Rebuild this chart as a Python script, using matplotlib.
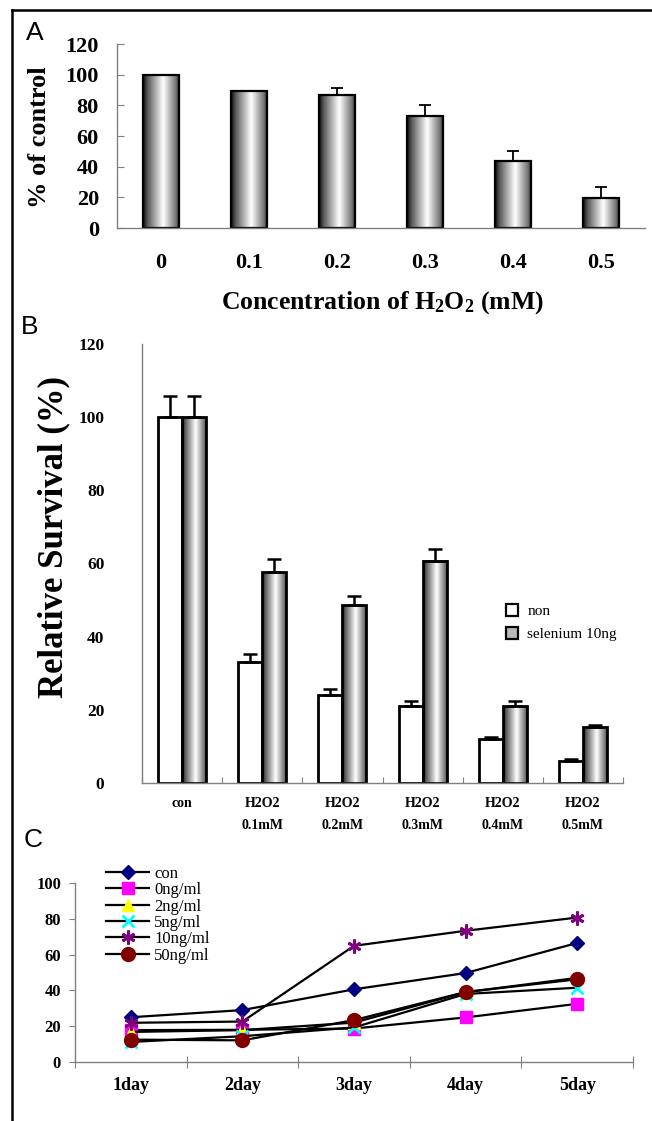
import numpy as np
import matplotlib
matplotlib.use('Agg')
import matplotlib.pyplot as plt
from matplotlib.lines import Line2D
from matplotlib.patches import Patch

plt.rcParams['font.family'] = ['Liberation Serif', 'DejaVu Serif']
plt.rcParams['mathtext.fontset'] = 'custom'
plt.rcParams['mathtext.rm'] = 'Liberation Serif:bold'
plt.rcParams['mathtext.default'] = 'rm'

# --- panel A: H2O2 dose response
conc_labels = ['0', '0.1', '0.2', '0.3', '0.4', '0.5']
pct_control = [100, 89.5, 87, 73, 43.7, 19.4]
pct_err = [0, 0, 4.6, 7.3, 6.6, 7.2]

# --- panel B: survival with / without selenium
groups = ['con', 'H2O2\n0.1mM', 'H2O2\n0.2mM', 'H2O2\n0.3mM', 'H2O2\n0.4mM', 'H2O2\n0.5mM']
surv_non = [100, 33, 24, 21, 12, 6]
surv_non_err = [5.7, 2.3, 1.7, 1.4, 0.7, 0.5]
surv_sel = [100, 57.6, 48.6, 60.7, 21, 15.2]
surv_sel_err = [5.7, 3.5, 2.5, 3.4, 1.4, 0.7]

# --- panel C: time course
days = ['1day', '2day', '3day', '4day', '5day']
series_names = ['con', '0ng/ml', '2ng/ml', '5ng/ml', '10ng/ml', '50ng/ml']
s_con = [25.0, 29.0, 40.6, 49.7, 66.5]
s_0ng = [17.8, 18.0, 18.7, 24.9, 32.5]
s_2ng = [16.8, 17.8, 22.0, 39.0, 47.0]
s_5ng = [11.2, 14.4, 19.3, 38.0, 41.5]
s_10ng = [21.9, 22.6, 64.9, 73.3, 80.7]
s_50ng = [12.5, 12.1, 23.4, 39.1, 46.2]

W, H = 652, 1121
fig = plt.figure(figsize=(W / 100, H / 100), dpi=100)


def box(l, t, r, b):
    return [l / W, 1 - b / H, (r - l) / W, (b - t) / H]


# cylinder-like shading for bars
shade = np.interp(np.linspace(0, 1, 64), [0, 0.12, 0.55, 0.9, 1], [0.05, 0.35, 1.0, 0.45, 0.15])
shade = shade[np.newaxis, :]


def shade_bars(ax, bars):
    for b in bars:
        x0, w, h = b.get_x(), b.get_width(), b.get_height()
        ax.imshow(shade, extent=[x0, x0 + w, 0, h], aspect='auto', cmap='gray',
                  vmin=0, vmax=1, zorder=1, interpolation='bilinear')


def gray_axes(ax):
    for s in ['top', 'right']:
        ax.spines[s].set_visible(False)
    for s in ['left', 'bottom']:
        ax.spines[s].set_color('#808080')
        ax.spines[s].set_linewidth(1)


# ---------------- A ----------------
axA = fig.add_axes(box(117, 44, 645, 228))
xa = np.arange(len(conc_labels)) + 0.5
barsA = axA.bar(xa, pct_control, width=0.41, facecolor='none', edgecolor='black',
                linewidth=1.6, zorder=2)
shade_bars(axA, barsA)
axA.errorbar(xa, pct_control, yerr=[[0] * len(pct_err), pct_err], fmt='none',
             ecolor='black', elinewidth=1.3, capsize=4, capthick=1.3, zorder=3)
axA.set_xlim(0, 6)
axA.set_ylim(0, 120)
axA.set_yticks(range(0, 121, 20))
axA.set_xticks(xa)
axA.set_xticklabels(conc_labels, fontsize=16, fontweight='bold')
axA.tick_params(axis='x', length=0, pad=18)
axA.tick_params(axis='y', direction='in', length=5, color='#808080', pad=13,
                labelsize=16)
for t in axA.get_yticklabels():
    t.set_fontweight('bold')
gray_axes(axA)
fig.text(40 / W, 1 - 137 / H, '% of control', rotation=90, ha='center', va='center',
         fontsize=19, fontweight='bold')
fig.text(382 / W, 1 - 303 / H, r'Concentration of H$_2$O$_2$ (mM)', ha='center',
         va='center', fontsize=18.5, fontweight='bold')

# ---------------- B ----------------
axB = fig.add_axes(box(142, 344, 623, 783))
xb = np.arange(len(groups)) + 0.5
bw = 0.3
barsN = axB.bar(xb - bw / 2, surv_non, width=bw, facecolor='white', edgecolor='black',
                linewidth=2, zorder=2, label='non')
barsS = axB.bar(xb + bw / 2, surv_sel, width=bw, facecolor='none', edgecolor='black',
                linewidth=2, zorder=2)
shade_bars(axB, barsS)
axB.errorbar(xb - bw / 2, surv_non, yerr=[[0] * len(groups), surv_non_err], fmt='none',
             ecolor='black', elinewidth=1.8, capsize=5, capthick=1.8, zorder=3)
axB.errorbar(xb + bw / 2, surv_sel, yerr=[[0] * len(groups), surv_sel_err], fmt='none',
             ecolor='black', elinewidth=1.8, capsize=5, capthick=1.8, zorder=3)
axB.set_xlim(0, 6)
axB.set_ylim(0, 120)
axB.set_yticks(range(0, 121, 20))
axB.tick_params(axis='y', length=0, pad=27, labelsize=12.5)
for t in axB.get_yticklabels():
    t.set_fontweight('bold')
axB.set_xticks(np.arange(0, 7))
axB.set_xticklabels([])
axB.tick_params(axis='x', which='major', direction='in', length=4, color='#808080')
axB.set_xticks(xb, minor=True)
axB.set_xticklabels(groups, minor=True, fontsize=10, fontweight='bold', linespacing=1.9)
axB.tick_params(axis='x', which='minor', length=0, pad=10)
gray_axes(axB)
fig.text(54 / W, 1 - 537 / H, 'Relative Survival (%)', rotation=90, ha='center',
         va='center', fontsize=25, fontweight='bold')
handles_b = [Patch(facecolor='white', edgecolor='black', linewidth=1.6, label='non'),
             Patch(facecolor='#b8b8b8', edgecolor='black', linewidth=1.6,
                   label='selenium 10ng')]
axB.legend(handles=handles_b, loc='upper left', bbox_to_anchor=(506 / W, 1 - 604 / H),
           bbox_transform=fig.transFigure, frameon=False, fontsize=11,
           handlelength=0.8, handleheight=0.8, handletextpad=0.6, labelspacing=0.6,
           borderpad=0, borderaxespad=0)

# ---------------- C ----------------
axC = fig.add_axes(box(75, 883, 633, 1062))
xc = np.arange(len(days)) + 0.5
series = [s_con, s_0ng, s_2ng, s_5ng, s_10ng, s_50ng]
markers = ['D', 's', '^', 'x', (6, 2, 0), 'o']
colors = ['#000080', '#FF00FF', '#FFFF00', '#00FFFF', '#800080', '#800000']
msizes = [7, 9, 9, 8, 10, 10]
for name, vals, m, c, ms in zip(series_names, series, markers, colors, msizes):
    axC.plot(xc, vals, color='black', linewidth=1.6, marker=m, markersize=ms,
             markerfacecolor=c, markeredgecolor=c, markeredgewidth=2 if m in ('x', (6, 2, 0)) else 1,
             label=name, zorder=3)
axC.set_xlim(0, 5)
axC.set_ylim(0, 100)
axC.set_yticks(range(0, 101, 20))
axC.tick_params(axis='y', direction='out', length=4, color='#808080', pad=6, labelsize=12)
for t in axC.get_yticklabels():
    t.set_fontweight('bold')
axC.set_xticks(np.arange(0, 6))
axC.set_xticklabels([])
axC.tick_params(axis='x', which='major', direction='inout', length=9, color='#808080')
axC.set_xticks(xc, minor=True)
axC.set_xticklabels(days, minor=True, fontsize=13, fontweight='bold')
axC.tick_params(axis='x', which='minor', length=0, pad=11)
gray_axes(axC)
axC.legend(loc='upper left', bbox_to_anchor=(106 / W, 1 - 866 / H),
           bbox_transform=fig.transFigure, frameon=False, fontsize=12,
           handlelength=2.6, handletextpad=0.3, labelspacing=0.02, borderpad=0,
           borderaxespad=0)

# panel letters
for letter, (px, py) in zip('ABC', [(35, 33), (30, 327), (33, 840)]):
    fig.text(px / W, 1 - py / H, letter, family='Liberation Sans', fontsize=19,
             ha='center', va='center')

# frame
fig.add_artist(Line2D([12 / W, 12 / W], [0, 1 - 10 / H], transform=fig.transFigure,
                      color='black', linewidth=1.8))
fig.add_artist(Line2D([12 / W, 1], [1 - 10 / H, 1 - 10 / H], transform=fig.transFigure,
                      color='black', linewidth=1.8))

fig.savefig('out.png', dpi=100)
